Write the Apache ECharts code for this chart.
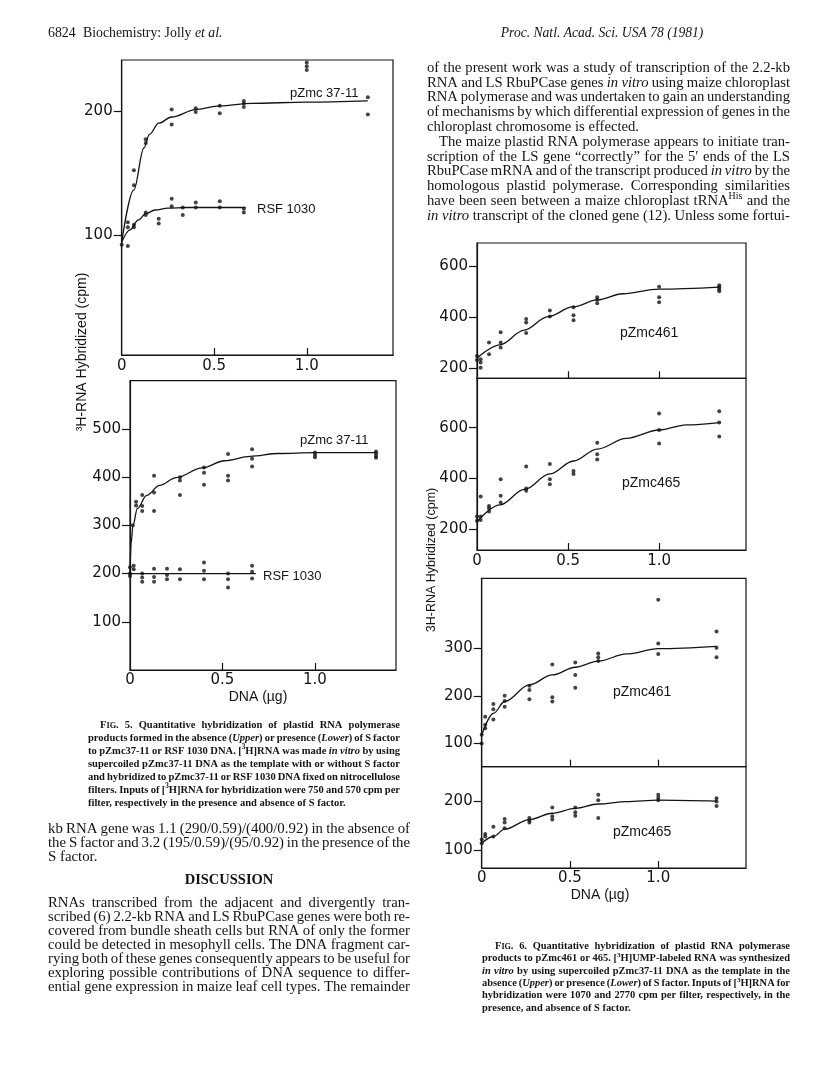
<!DOCTYPE html>
<html>
<head>
<meta charset="utf-8">
<title>Jolly et al. 1981 - Figs. 5 and 6</title>
<script src="https://cdn.jsdelivr.net/npm/echarts@6/dist/echarts.min.js"></script>
<style>
html, body { margin: 0; padding: 0; background: #fff; }
#page { width: 816px; height: 1082px; }
</style>
</head>
<body>
<div id="page"></div>
<script>
// values: x = DNA (ug), y = 3H-RNA hybridized (cpm)

// Fig. 5 upper (no S factor)
const f5uPzmcDots = [[0, 92], [0.066, 152], [0.066, 140], [0.13, 177], [0.13, 174], [0.27, 201], [0.27, 189],
  [0.4, 202], [0.4, 199], [0.53, 204], [0.53, 198], [0.66, 208], [0.66, 206], [0.66, 203],
  [1.0, 239], [1.0, 236], [1.0, 233], [1.33, 211], [1.33, 197]]
const f5uPzmcCurve = [[0, 94], [0.065, 136], [0.12, 170], [0.15, 181], [0.2, 190], [0.27, 195], [0.4, 201],
  [0.53, 204], [0.7, 206], [1.0, 207], [1.33, 208]]
const f5uRsfDots = [[0.033, 110], [0.033, 106], [0.033, 91], [0.066, 108], [0.066, 106], [0.13, 118], [0.13, 116],
  [0.2, 113], [0.2, 109], [0.27, 129], [0.27, 123], [0.33, 122], [0.33, 116], [0.4, 126], [0.4, 122],
  [0.53, 127], [0.53, 122], [0.66, 121], [0.66, 118]]
const f5uRsfCurve = [[0, 94], [0.045, 104], [0.09, 112], [0.13, 117], [0.18, 120], [0.25, 121.5], [0.35, 122], [0.67, 122]]

// Fig. 5 lower (with S factor)
const f5lPzmcDots = [[1.33, 453], [1.33, 449], [1.33, 444], [1.33, 440], [1.0, 451], [1.0, 446], [1.0, 441],
  [0.66, 458], [0.66, 438], [0.66, 422], [0.53, 448], [0.53, 403], [0.53, 393], [0.4, 420], [0.4, 409], [0.4, 384],
  [0.27, 400], [0.27, 393], [0.27, 363], [0.13, 403], [0.13, 368], [0.13, 330], [0.066, 363], [0.066, 340],
  [0.066, 330], [0.033, 349], [0.033, 341], [0.015, 300]]
const f5lPzmcCurve = [[0, 200], [0.006, 262], [0.016, 300], [0.04, 335], [0.09, 362], [0.16, 383], [0.25, 399],
  [0.39, 419], [0.51, 434], [0.65, 443], [0.8, 449], [1.0, 451], [1.33, 451]]
const f5lRsfDots = [[0, 213], [0, 200], [0, 195], [0.02, 216], [0.02, 209], [0.066, 200], [0.066, 192], [0.066, 183],
  [0.13, 210], [0.13, 193], [0.13, 183], [0.2, 210], [0.2, 197], [0.2, 188], [0.27, 209], [0.27, 188],
  [0.4, 223], [0.4, 206], [0.4, 188], [0.53, 200], [0.53, 188], [0.53, 171], [0.66, 216], [0.66, 204], [0.66, 190]]
const f5lRsfCurve = [[0, 200], [0.68, 200]]

// Fig. 6 upper pair (no S factor)
const f6a461Dots = [[0, 248], [0, 232], [0.02, 235], [0.02, 222], [0.02, 202], [0.066, 301], [0.066, 255],
  [0.13, 341], [0.13, 301], [0.13, 281], [0.27, 394], [0.27, 380], [0.27, 338], [0.4, 427], [0.4, 403],
  [0.53, 440], [0.53, 408], [0.53, 389], [0.66, 479], [0.66, 469], [0.66, 456], [1.0, 521], [1.0, 479], [1.0, 460],
  [1.33, 527], [1.33, 519], [1.33, 511], [1.33, 503]]
const f6a461Curve = [[0, 239], [0.125, 292], [0.26, 350], [0.39, 403], [0.53, 442], [0.66, 469], [0.8, 493],
  [1.0, 511], [1.33, 519]]
const f6b465Dots = [[0, 250], [0, 234], [0.02, 329], [0.02, 250], [0.02, 237], [0.066, 292], [0.066, 283], [0.066, 270],
  [0.13, 397], [0.13, 332], [0.13, 306], [0.27, 447], [0.27, 361], [0.27, 352], [0.4, 457], [0.4, 397], [0.4, 377],
  [0.53, 430], [0.53, 418], [0.66, 541], [0.66, 495], [0.66, 475], [1.0, 656], [1.0, 591], [1.0, 538],
  [1.33, 665], [1.33, 620], [1.33, 565]]
const f6b465Curve = [[0, 230], [0.125, 296], [0.26, 357], [0.4, 418], [0.53, 469], [0.66, 516], [0.82, 558],
  [1.0, 591], [1.15, 611], [1.33, 620]]

// Fig. 6 lower pair (with S factor)
const f6c461Dots = [[0, 118], [0, 100], [0.02, 156], [0.02, 139], [0.02, 132], [0.066, 183], [0.066, 172], [0.066, 150],
  [0.13, 200], [0.13, 189], [0.13, 177], [0.27, 221], [0.27, 212], [0.27, 193], [0.4, 266], [0.4, 197], [0.4, 188],
  [0.53, 270], [0.53, 244], [0.53, 217], [0.66, 289], [0.66, 281], [0.66, 273], [1.0, 402], [1.0, 310], [1.0, 288],
  [1.33, 335], [1.33, 301], [1.33, 281]]
const f6c461Curve = [[0, 117], [0.066, 163], [0.13, 188], [0.27, 223], [0.4, 244], [0.53, 260], [0.66, 273],
  [0.82, 288], [1.0, 299], [1.33, 304]]
const f6d465Dots = [[0, 122], [0, 114], [0.02, 133], [0.02, 128], [0.066, 148], [0.066, 128], [0.13, 164], [0.13, 157],
  [0.13, 145], [0.27, 166], [0.27, 161], [0.27, 157], [0.4, 188], [0.4, 170], [0.4, 163], [0.53, 188], [0.53, 178],
  [0.53, 171], [0.66, 214], [0.66, 203], [0.66, 166], [1.0, 214], [1.0, 208], [1.0, 203], [1.33, 207], [1.33, 200],
  [1.33, 191]]
const f6d465Curve = [[0, 114], [0.066, 128], [0.13, 143], [0.27, 163], [0.4, 176], [0.53, 186], [0.66, 195],
  [0.82, 200], [1.0, 203], [1.33, 201]]

// tick labels
const doseLabels = [0, 0.5, 1.0]
const doseTicks = [0.5, 1.0]
const f5UpperTicks = [100, 200]
const f5LowerTicks = [100, 200, 300, 400, 500]
const f6UpperTicks = [200, 400, 600]
const f6Lower461Ticks = [100, 200, 300]
const f6Lower465Ticks = [100, 200]

// page text (*italic*, ^superscript^, ~small caps~)
const headerLeft = ['6824', 'Biochemistry: Jolly *et al.*']
const headerRight = '*Proc. Natl. Acad. Sci. USA 78 (1981)*'
const rightColumnLines = [
  'of the present work was a study of transcription of the 2.2-kb',
  'RNA and LS RbuPCase genes *in vitro* using maize chloroplast',
  'RNA polymerase and was undertaken to gain an understanding',
  'of mechanisms by which differential expression of genes in the',
  'chloroplast chromosome is effected.',
  'The maize plastid RNA polymerase appears to initiate tran-',
  'scription of the LS gene \u201ccorrectly\u201d for the 5\u2032 ends of the LS',
  'RbuPCase mRNA and of the transcript produced *in vitro* by the',
  'homologous plastid polymerase. Corresponding similarities',
  'have been seen between a maize chloroplast tRNA^His^ and the',
  '*in vitro* transcript of the cloned gene (12). Unless some fortui-'
]
const resultLines = [
  'kb RNA gene was 1.1 (290/0.59)/(400/0.92) in the absence of',
  'the S factor and 3.2 (195/0.59)/(95/0.92) in the presence of the',
  'S factor.'
]
const discussionLines = [
  'RNAs transcribed from the adjacent and divergently tran-',
  'scribed (6) 2.2-kb RNA and LS RbuPCase genes were both re-',
  'covered from bundle sheath cells but RNA of only the former',
  'could be detected in mesophyll cells. The DNA fragment car-',
  'rying both of these genes consequently appears to be useful for',
  'exploring possible contributions of DNA sequence to differ-',
  'ential gene expression in maize leaf cell types. The remainder'
]
const fig5CaptionLines = [
  'F~IG~. 5.  Quantitative hybridization of plastid RNA polymerase',
  'products formed in the absence (*Upper*) or presence (*Lower*) of S factor',
  'to pZmc37-11 or RSF 1030 DNA. [^3^H]RNA was made *in vitro* by using',
  'supercoiled pZmc37-11 DNA as the template with or without S factor',
  'and hybridized to pZmc37-11 or RSF 1030 DNA fixed on nitrocellulose',
  'filters. Inputs of [^3^H]RNA for hybridization were 750 and 570 cpm per',
  'filter, respectively in the presence and absence of S factor.'
]
const fig6CaptionLines = [
  'F~IG~. 6.  Quantitative hybridization of plastid RNA polymerase',
  'products to pZmc461 or 465. [^3^H]UMP-labeled RNA was synthesized',
  '*in vitro* by using supercoiled pZmc37-11 DNA as the template in the',
  'absence (*Upper*) or presence (*Lower*) of S factor. Inputs of [^3^H]RNA for',
  'hybridization were 1070 and 2770 cpm per filter, respectively, in the',
  'presence, and absence of S factor.'
]

const INK = '#141414'
const TICK_FONT = 'DejaVu Sans'
const SANS = 'Liberation Sans'
const SERIF = 'Liberation Serif'

// panel boxes on the page
const grids = [
  { left: 121.7, top: 60, width: 271.3, height: 295 },
  { left: 130, top: 380.7, width: 266, height: 289.3 },
  { left: 477, top: 243, width: 269, height: 135.3 },
  { left: 477, top: 378.3, width: 269, height: 171.7 },
  { left: 481.7, top: 578.3, width: 264.3, height: 188.4 },
  { left: 481.7, top: 766.7, width: 264.3, height: 101.3 }
].map(g => Object.assign({ show: true, borderColor: INK, borderWidth: 1.2, backgroundColor: 'transparent' }, g))

function xAx (i, max, showLabels, margin) {
  return {
    gridIndex: i, type: 'value', min: 0, max: max,
    axisLine: { show: true, onZero: false, lineStyle: { color: INK, width: 1.2 } },
    axisTick: { show: true, inside: true, length: 7, customValues: doseTicks, lineStyle: { color: INK, width: 1.2 } },
    axisLabel: {
      show: showLabels, customValues: doseLabels, margin: margin,
      formatter: v => v === 0 ? '0' : v.toFixed(1),
      color: INK, fontFamily: TICK_FONT, fontSize: 15
    },
    splitLine: { show: false }
  }
}

function yAx (i, min, max, ticks) {
  return {
    gridIndex: i, type: 'value', min: min, max: max,
    axisLine: { show: true, onZero: false, lineStyle: { color: INK, width: 1.2 } },
    axisTick: { show: true, inside: false, length: 8, customValues: ticks, lineStyle: { color: INK, width: 1.2 } },
    axisLabel: { customValues: ticks, margin: 9, color: INK, fontFamily: TICK_FONT, fontSize: 15 },
    splitLine: { show: false }
  }
}

function dots (i, data) {
  return {
    type: 'scatter', xAxisIndex: i, yAxisIndex: i, data: data,
    symbol: 'circle', symbolSize: 4, itemStyle: { color: INK }, silent: true
  }
}

function curve (i, data) {
  return {
    type: 'line', xAxisIndex: i, yAxisIndex: i, data: data,
    smooth: 0.35, smoothMonotone: 'x', showSymbol: false, symbol: 'none',
    lineStyle: { color: INK, width: 1.3 }, silent: true
  }
}

// ---- text helpers ----
const measureCtx = document.createElement('canvas').getContext('2d')
function cssFont (size, family, style, weight) {
  return (style || 'normal') + ' ' + (weight || 'normal') + ' ' + size + 'px "' + family + '"'
}
function textWidth (str, size, family, style, weight) {
  measureCtx.font = cssFont(size, family, style, weight)
  return measureCtx.measureText(str).width
}

function parseLine (line) {
  const words = []
  let cur = []
  let mode = 'n'
  let buf = ''
  const flush = () => { if (buf) { cur.push({ t: buf, s: mode }); buf = '' } }
  for (const ch of line) {
    if (ch === '*') { flush(); mode = mode === 'i' ? 'n' : 'i' }
    else if (ch === '^') { flush(); mode = mode === 'sup' ? 'n' : 'sup' }
    else if (ch === '~') { flush(); mode = mode === 'sc' ? 'n' : 'sc' }
    else if (ch === ' ') { flush(); if (cur.length) { words.push(cur); cur = [] } }
    else buf += ch
  }
  flush()
  if (cur.length) words.push(cur)
  return words
}

function segStyle (seg, size) {
  if (seg.s === 'i') return { size: size, style: 'italic', dy: 0 }
  if (seg.s === 'sup') return { size: size * 0.68, style: 'normal', dy: -size * 0.32 }
  if (seg.s === 'sc') return { size: size * 0.78, style: 'normal', dy: size * 0.09 }
  return { size: size, style: 'normal', dy: 0 }
}

function wordWidth (word, size, family, weight) {
  return word.reduce((s, seg) => {
    const st = segStyle(seg, size)
    return s + textWidth(seg.t, st.size, family, st.style, weight)
  }, 0)
}

const graphics = []

function pushText (x, y, str, size, family, opts) {
  opts = opts || {}
  graphics.push({
    type: 'text', x: x, y: y, silent: true, rotation: opts.rotation || 0,
    style: {
      text: str, fill: INK, fontSize: size, fontFamily: family,
      fontStyle: opts.style || 'normal', fontWeight: opts.weight || 'normal',
      align: opts.align || 'left', verticalAlign: 'middle',
      textAlign: opts.align || 'left', textVerticalAlign: 'middle'
    }
  })
}

// lay a block of lines out word by word, justified to the column width;
// the size is shrunk until the tightest justified line fits
function textBlock (b) {
  const parsed = b.lines.map(parseLine)
  const indent = b.indent || {}
  const ragged = b.ragged || []
  let size = b.size
  let worst = 0
  parsed.forEach((words, i) => {
    if (ragged.includes(i)) return
    const sp = textWidth(' ', size, b.family, 'normal', b.weight)
    const nat = words.reduce((s, w) => s + wordWidth(w, size, b.family, b.weight), 0) + (words.length - 1) * sp * 0.75
    worst = Math.max(worst, nat / (b.width - (indent[i] || 0)))
  })
  if (worst > 1) size = size / worst
  const space = textWidth(' ', size, b.family, 'normal', b.weight)
  parsed.forEach((words, i) => {
    const y = b.y + i * b.lh
    const x0 = b.x + (indent[i] || 0)
    const widths = words.map(w => wordWidth(w, size, b.family, b.weight))
    const total = widths.reduce((a, c) => a + c, 0)
    let gap = space
    if (!ragged.includes(i) && words.length > 1) gap = (b.x + b.width - x0 - total) / (words.length - 1)
    let x = x0
    words.forEach((word, k) => {
      let sx = x
      word.forEach(seg => {
        const st = segStyle(seg, size)
        pushText(sx, y + st.dy, seg.t, st.size, b.family, { style: st.style, weight: b.weight })
        sx += textWidth(seg.t, st.size, b.family, st.style, b.weight)
      })
      x += widths[k] + gap
    })
  })
}

// running head
pushText(48, 33, headerLeft[0], 13.8, SERIF)
textBlock({ lines: [headerLeft[1]], x: 83, width: 200, y: 33, lh: 14, size: 13.8, family: SERIF, ragged: [0] })
const headW = wordWidth(parseLine(headerRight).flat(), 13.6, SERIF) + 5 * textWidth(' ', 13.6, SERIF)
textBlock({ lines: [headerRight], x: 700 - headW, width: headW, y: 33, lh: 14, size: 13.6, family: SERIF, ragged: [0] })

// body text
textBlock({ lines: rightColumnLines, x: 427, width: 363, y: 68, lh: 14.8, size: 15, family: SERIF, indent: { 5: 12 }, ragged: [4] })
textBlock({ lines: resultLines, x: 48, width: 362, y: 829, lh: 14.2, size: 15, family: SERIF, ragged: [2] })
pushText(229, 880, 'DISCUSSION', 14.5, SERIF, { align: 'center', weight: 'bold' })
textBlock({ lines: discussionLines, x: 48, width: 362, y: 903, lh: 14, size: 15, family: SERIF })

// captions
textBlock({ lines: fig5CaptionLines, x: 88, width: 312, y: 725, lh: 13, size: 12, family: SERIF, weight: 'bold', indent: { 0: 12 }, ragged: [6] })
textBlock({ lines: fig6CaptionLines, x: 482, width: 308, y: 946, lh: 12.4, size: 12, family: SERIF, weight: 'bold', indent: { 0: 13 }, ragged: [5] })

// axis titles and curve labels
pushText(82, 352, '\u00b3H-RNA Hybridized (cpm)', 14, SANS, { align: 'center', rotation: Math.PI / 2 })
pushText(432, 560, '3H-RNA Hybridized (cpm)', 12.5, SANS, { align: 'center', rotation: Math.PI / 2 })
pushText(258, 697, 'DNA (\u00b5g)', 14, SANS, { align: 'center' })
pushText(600, 895, 'DNA (\u00b5g)', 14, SANS, { align: 'center' })
pushText(290, 93, 'pZmc 37-11', 13, SANS)
pushText(257, 209, 'RSF 1030', 13, SANS)
pushText(300, 440, 'pZmc 37-11', 13, SANS)
pushText(263, 576, 'RSF 1030', 13, SANS)
pushText(620, 333, 'pZmc461', 14, SANS)
pushText(622, 483, 'pZmc465', 14, SANS)
pushText(613, 692, 'pZmc461', 14, SANS)
pushText(613, 832, 'pZmc465', 14, SANS)

const page = echarts.init(document.getElementById('page'), null, { renderer: 'canvas' })
page.setOption({
  animation: false,
  backgroundColor: '#fff',
  grid: grids,
  xAxis: [
    xAx(0, 1.466, true, 4),
    xAx(1, 1.438, true, 3),
    xAx(2, 1.477, false, 4),
    xAx(3, 1.477, true, 4),
    xAx(4, 1.497, false, 4),
    xAx(5, 1.497, true, 3)
  ],
  yAxis: [
    yAx(0, 3, 241, f5UpperTicks),
    yAx(1, 0, 600, f5LowerTicks),
    yAx(2, 160, 693, f6UpperTicks),
    yAx(3, 118.5, 794.5, f6UpperTicks),
    yAx(4, 51, 447, f6Lower461Ticks),
    yAx(5, 63, 272, f6Lower465Ticks)
  ],
  series: [
    curve(0, f5uPzmcCurve), dots(0, f5uPzmcDots),
    curve(0, f5uRsfCurve), dots(0, f5uRsfDots),
    curve(1, f5lPzmcCurve), dots(1, f5lPzmcDots),
    curve(1, f5lRsfCurve), dots(1, f5lRsfDots),
    curve(2, f6a461Curve), dots(2, f6a461Dots),
    curve(3, f6b465Curve), dots(3, f6b465Dots),
    curve(4, f6c461Curve), dots(4, f6c461Dots),
    curve(5, f6d465Curve), dots(5, f6d465Dots)
  ],
  graphic: graphics
})
</script>
</body>
</html>
